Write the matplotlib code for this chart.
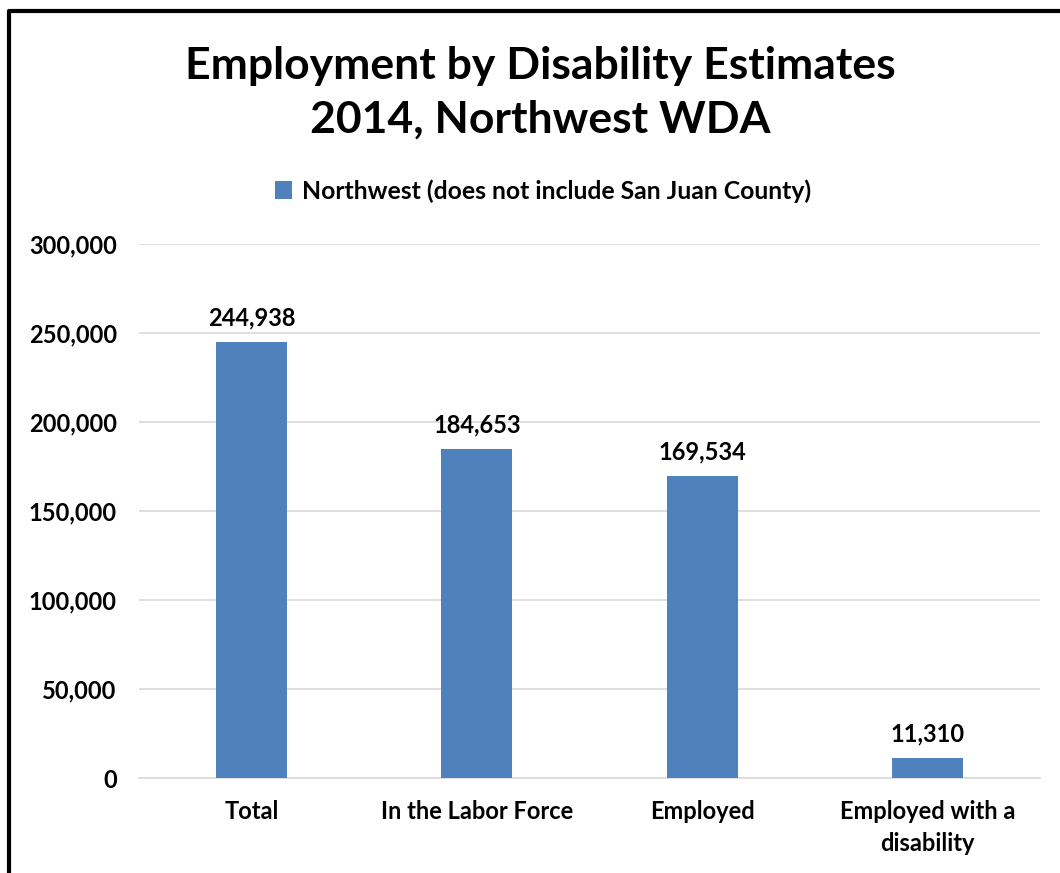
import matplotlib.pyplot as plt
from matplotlib.lines import Line2D
from matplotlib.patches import Patch
from matplotlib.ticker import FuncFormatter

plt.rcParams['font.family'] = ['Lato', 'DejaVu Sans']

categories = ['Total', 'In the Labor Force', 'Employed', 'Employed with a\ndisability']
values = [244938, 184653, 169534, 11310]
series_name = 'Northwest (does not include San Juan County)'
yticks = [0, 50000, 100000, 150000, 200000, 250000, 300000]

BAR = '#4f81bd'
GRID = '#d9d9d9'
W, H = 1060, 873
FS = 17

fig = plt.figure(figsize=(W / 100, H / 100), dpi=100)
ax = fig.add_axes([139 / W, 1 - 778 / H, (1040 - 139) / W, (778 - 244) / H])

x = range(len(categories))
bars = ax.bar(x, values, width=0.315, color=BAR, zorder=3)

ax.set_xlim(-0.5, len(categories) - 0.5)
ax.set_ylim(0, 300000)
ax.set_yticks(yticks)
ax.yaxis.set_major_formatter(FuncFormatter(lambda v, _: f'{int(v):,}'))
ax.set_xticks(list(x))
ax.set_xticklabels(categories, linespacing=1.45)
ax.grid(axis='y', color=GRID, lw=1.2, zorder=0)
for s in ['top', 'right', 'left']:
    ax.spines[s].set_visible(False)
ax.spines['bottom'].set_color(GRID)
ax.spines['bottom'].set_linewidth(1.2)
ax.tick_params(length=0)
ax.tick_params(axis='y', pad=16)
ax.tick_params(axis='x', pad=16)
for lbl in ax.get_yticklabels() + ax.get_xticklabels():
    lbl.set_fontsize(FS)
    lbl.set_fontweight('bold')

for b, v in zip(bars, values):
    ax.annotate(f'{v:,}', (b.get_x() + b.get_width() / 2, v),
                xytext=(0, 9), textcoords='offset points',
                ha='center', va='bottom', fontsize=FS, fontweight='bold')

fig.text(540 / W, 1 - 93 / H, 'Employment by Disability Estimates\n2014, Northwest WDA',
         ha='center', va='center', fontsize=32, fontweight='bold', linespacing=1.4)

ax.legend(handles=[Patch(fc=BAR, label=series_name)], loc='center',
          bbox_to_anchor=(543 / W, 1 - 191 / H), bbox_transform=fig.transFigure,
          frameon=False, prop={'weight': 'bold', 'size': 17.8},
          handlelength=0.7, handleheight=0.7, handletextpad=0.4)

# outer chart border (left and top edges)
fig.add_artist(Line2D([9 / W, 9 / W, 1], [0, 1 - 10.5 / H, 1 - 10.5 / H],
                      transform=fig.transFigure, color='black', lw=3))

fig.savefig('out.png', dpi=100, facecolor='white')
